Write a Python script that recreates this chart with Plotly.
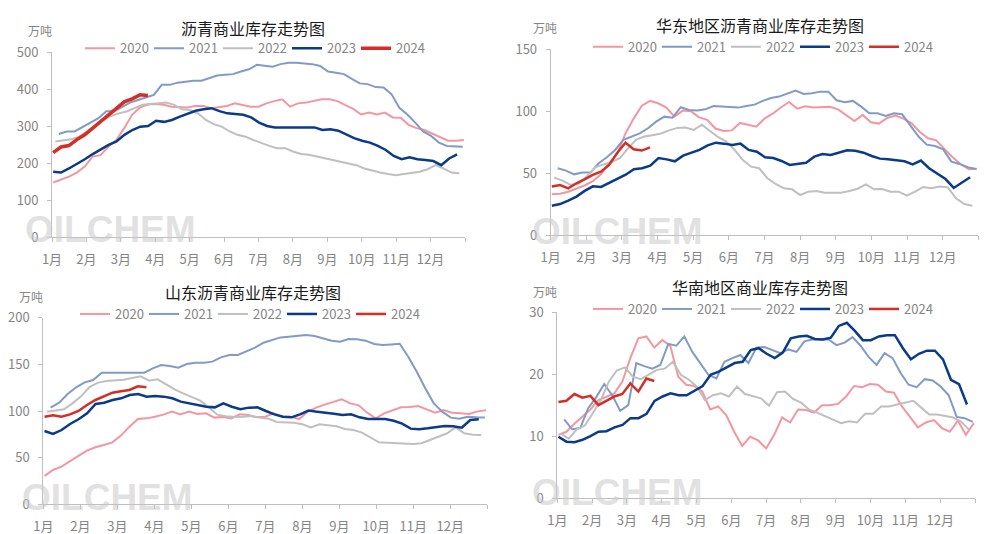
import datetime as dt
import plotly.graph_objects as go

# ---------------- data ----------------
YEARS = ["2020", "2021", "2022", "2023", "2024"]
FIRST_WEEK = ["2020-01-02", "2021-01-07", "2022-01-04", "2023-01-02", "2024-01-02"]
MONTH_LABELS = ["1月", "2月", "3月", "4月", "5月", "6月", "7月", "8月", "9月", "10月", "11月", "12月"]
TITLES = ["沥青商业库存走势图", "华东地区沥青商业库存走势图", "山东沥青商业库存走势图", "华南地区商业库存走势图"]
UNIT = "万吨"
WATERMARK = "OILCHEM"

# 沥青商业库存 (万吨)
TOTAL_2020 = [148, 155, 164, 175, 191, 218, 222, 245, 263, 295, 331, 351, 359, 360, 358, 353, 353, 351, 355, 355,
              349, 351, 355, 362, 358, 353, 353, 362, 368, 373, 353, 362, 364, 368, 373, 373, 368, 357, 347, 332,
              337, 332, 337, 324, 323, 304, 295, 290, 281, 270, 261, 261, 263]
TOTAL_2021 = [279, 286, 286, 299, 310, 322, 341, 341, 353, 364, 371, 378, 385, 412, 412, 418, 421, 423, 423, 430,
              437, 439, 441, 448, 454, 466, 464, 461, 468, 472, 472, 471, 468, 463, 448, 445, 441, 428, 416, 414,
              406, 405, 387, 350, 332, 310, 286, 274, 256, 247, 245, 245]
TOTAL_2022 = [259, 263, 265, 272, 286, 301, 317, 328, 335, 340, 349, 358, 360, 362, 364, 358, 346, 344, 335, 317,
              306, 299, 286, 277, 272, 263, 254, 247, 241, 241, 232, 225, 223, 218, 214, 209, 205, 200, 195, 186,
              180, 175, 171, 168, 171, 175, 177, 184, 195, 186, 175, 173]
TOTAL_2023 = [177, 175, 186, 198, 211, 225, 238, 250, 259, 277, 290, 299, 301, 315, 312, 317, 326, 333, 342, 346,
              349, 341, 335, 333, 331, 324, 310, 301, 297, 297, 297, 297, 299, 297, 290, 292, 288, 277, 268, 261,
              256, 247, 236, 220, 211, 216, 211, 209, 206, 195, 213, 224]
TOTAL_2024 = [229, 244, 248, 264, 277, 295, 313, 331, 351, 366, 374, 385, 383]

# 华东地区沥青商业库存 (万吨)
EAST_2020 = [32.9, 33.4, 35.0, 37.2, 40.0, 43.5, 49.0, 58.0, 65.5, 82.0, 94.0, 104.5, 108.3, 106.4, 103.0, 95.6,
             100.5, 100.0, 95.0, 93.0, 86.0, 84.0, 84.5, 90.5, 89.0, 87.5, 94.0, 98.0, 103.0, 107.5, 102.0, 104.0,
             103.0, 103.5, 103.5, 101.5, 97.0, 92.0, 97.0, 91.0, 90.0, 94.5, 96.5, 94.0, 90.2, 83.2, 78.1, 76.5,
             69.5, 62.8, 57.1, 53.1, 53.6]
EAST_2021 = [53.9, 52.0, 49.0, 50.4, 50.4, 57.9, 62.8, 68.7, 76.8, 79.5, 82.1, 86.2, 91.6, 95.6, 94.8, 103.2,
             101.0, 100.5, 101.5, 104.2, 103.7, 103.7, 102.9, 104.2, 105.3, 108.3, 110.7, 111.8, 114.5, 116.6,
             113.9, 114.5, 115.8, 115.8, 108.8, 107.2, 108.3, 103.7, 98.3, 98.3, 96.1, 98.3, 97.5, 88.9, 79.5,
             73.0, 71.9, 69.2, 59.3, 57.4, 54.7, 53.3]
EAST_2022 = [46.3, 43.9, 40.5, 41.5, 47.5, 54.6, 57.0, 59.0, 62.0, 70.0, 77.0, 79.5, 80.5, 82.0, 84.5, 86.5,
             86.8, 84.8, 89.0, 84.0, 79.0, 75.4, 68.7, 60.6, 55.2, 53.9, 45.8, 41.2, 37.7, 36.9, 32.3, 35.0,
             35.6, 34.2, 34.2, 34.2, 35.6, 37.4, 40.9, 36.9, 37.2, 35.0, 35.0, 31.8, 35.0, 38.8, 37.7, 39.1,
             38.5, 29.6, 25.0, 23.7]
EAST_2023 = [23.7, 25.0, 27.7, 31.0, 35.6, 39.3, 38.8, 42.0, 45.2, 48.7, 53.1, 53.9, 56.0, 62.2, 61.1, 59.5,
             64.1, 66.3, 68.7, 72.4, 74.6, 73.8, 72.7, 73.8, 68.7, 67.3, 62.8, 62.2, 59.8, 56.6, 57.4, 58.4,
             63.3, 65.4, 64.6, 66.8, 68.4, 68.1, 66.5, 63.8, 61.7, 61.1, 60.1, 59.5, 57.1, 60.1, 53.9, 49.6,
             45.2, 38.0, 42.3, 46.6]
EAST_2024 = [39.1, 40.4, 37.7, 41.8, 45.0, 48.5, 51.2, 56.6, 66.5, 74.6, 69.2, 68.2, 70.8]

# 山东沥青商业库存 (万吨)
SD_2020 = [30.4, 36.8, 40.4, 45.7, 51.8, 57.5, 61.1, 63.6, 66.4, 73.6, 83.2, 91.4, 92.1, 93.9, 96.1, 99.3,
           96.4, 99.3, 96.8, 97.5, 92.9, 93.6, 92.1, 96.4, 95.7, 93.2, 93.9, 97.5, 93.9, 93.9, 91.4, 99.3,
           103.6, 106.8, 109.6, 112.5, 108.2, 106.1, 98.2, 92.1, 97.5, 100.7, 103.9, 104.3, 105.4, 101.8,
           98.2, 101.1, 98.2, 97.5, 96.8, 99.6, 100.7]
SD_2021 = [103.6, 108.9, 118.2, 125.4, 130.7, 133.2, 141.1, 141.1, 141.1, 141.1, 141.1, 141.1, 145.7, 149.3,
           148.2, 146.4, 150.4, 151.8, 151.8, 152.9, 157.5, 160.0, 160.0, 164.3, 167.9, 173.2, 175.7, 178.9,
           179.6, 180.4, 181.4, 180.4, 177.5, 175.4, 174.3, 177.1, 176.8, 175.4, 171.8, 170.7, 171.4, 172.1,
           158.2, 142.1, 124.3, 108.2, 99.3, 92.9, 91.8, 93.9, 93.2, 92.9]
SD_2022 = [99.3, 100.4, 101.8, 108.2, 115.7, 125.7, 130.4, 132.1, 132.5, 133.6, 135.4, 137.1, 132.5, 133.9,
           128.6, 123.2, 118.9, 115.0, 111.1, 103.9, 96.1, 94.3, 93.6, 93.9, 94.6, 92.9, 91.8, 88.2, 87.5,
           87.5, 85.7, 82.5, 85.7, 85.0, 83.6, 80.7, 79.6, 76.8, 71.8, 66.4, 66.1, 65.4, 64.6, 64.6, 65.4,
           68.9, 72.1, 76.1, 82.5, 76.1, 74.6, 74.3]
SD_2023 = [78.6, 75.4, 79.6, 86.1, 91.1, 97.5, 107.5, 108.9, 111.8, 113.6, 117.1, 118.2, 115.4, 116.1, 115.4,
           113.6, 110.0, 108.2, 106.4, 104.6, 103.9, 108.2, 104.6, 101.8, 103.6, 103.9, 100.0, 96.4, 93.9,
           93.2, 96.4, 100.4, 99.3, 98.6, 97.1, 95.7, 96.4, 93.2, 91.4, 91.4, 91.4, 89.6, 86.4, 81.1, 80.4,
           81.4, 82.5, 83.9, 83.6, 82.1, 90.4, 91.1]
SD_2024 = [93.9, 95.4, 93.9, 96.4, 100.0, 106.4, 111.8, 116.1, 119.6, 121.1, 122.5, 126.5, 125.4]

# 华南地区商业库存 (万吨)
SOUTH_2020 = [10.2, 10.7, 12.0, 13.2, 14.3, 15.8, 16.4, 16.9, 18.8, 22.6, 25.8, 26.1, 24.3, 25.5, 24.6, 19.6,
              18.3, 18.1, 17.2, 14.3, 14.8, 13.4, 10.7, 8.4, 9.9, 9.3, 8.0, 10.2, 13.0, 12.2, 14.3, 14.2, 13.8,
              15.0, 15.0, 15.2, 16.4, 18.1, 17.9, 18.4, 18.3, 17.2, 17.0, 14.8, 13.1, 11.4, 12.2, 12.6, 11.3,
              10.7, 12.5, 10.2, 12.1]
SOUTH_2021 = [12.7, 11.1, 11.3, 14.5, 16.3, 18.4, 16.6, 14.1, 15.0, 21.8, 21.3, 20.9, 21.5, 24.9, 24.6, 26.1,
              23.6, 21.8, 19.9, 19.3, 22.0, 22.6, 23.1, 21.8, 24.3, 24.4, 23.9, 23.4, 24.0, 23.6, 25.3, 25.6,
              25.6, 25.6, 24.7, 25.1, 26.0, 24.6, 22.8, 21.5, 23.4, 22.6, 20.2, 18.3, 17.9, 19.2, 19.0, 18.0,
              16.6, 13.1, 12.9, 12.3]
SOUTH_2022 = [10.4, 9.6, 11.1, 11.7, 13.7, 15.8, 18.8, 20.6, 21.1, 19.6, 19.2, 19.9, 20.7, 20.9, 22.0, 19.9,
              19.1, 18.0, 15.8, 16.6, 16.9, 16.4, 18.0, 16.8, 16.5, 16.1, 14.9, 17.1, 17.2, 16.0, 15.4, 14.3,
              13.8, 13.2, 12.7, 12.1, 12.4, 12.2, 13.6, 13.6, 14.8, 14.8, 15.1, 15.4, 15.7, 14.6, 13.5, 13.5,
              13.2, 13.0, 12.3, 11.0]
SOUTH_2023 = [9.9, 9.1, 9.0, 9.4, 10.0, 10.7, 10.8, 11.4, 11.8, 12.9, 12.9, 13.6, 15.7, 16.4, 16.9, 16.6,
              16.6, 17.3, 18.1, 19.9, 20.4, 21.1, 21.8, 22.0, 23.9, 24.2, 23.3, 22.6, 23.5, 25.8, 26.1, 26.2,
              25.7, 25.6, 25.9, 27.8, 28.3, 27.0, 25.5, 25.5, 26.1, 26.3, 26.3, 24.2, 22.4, 23.3, 23.8, 23.8,
              22.4, 19.1, 18.4, 15.1]
SOUTH_2024 = [15.5, 15.7, 16.8, 16.2, 16.5, 15.0, 15.7, 16.4, 16.8, 18.5, 17.2, 19.3, 18.9]

PANELS = [
    {"title": TITLES[0], "series": [TOTAL_2020, TOTAL_2021, TOTAL_2022, TOTAL_2023, TOTAL_2024],
     "yrange": [0, 500], "dtick": 100},
    {"title": TITLES[1], "series": [EAST_2020, EAST_2021, EAST_2022, EAST_2023, EAST_2024],
     "yrange": [0, 150], "dtick": 50},
    {"title": TITLES[2], "series": [SD_2020, SD_2021, SD_2022, SD_2023, SD_2024],
     "yrange": [0, 200], "dtick": 50},
    {"title": TITLES[3], "series": [SOUTH_2020, SOUTH_2021, SOUTH_2022, SOUTH_2023, SOUTH_2024],
     "yrange": [0, 30], "dtick": 10},
]

# ---------------- style ----------------
W, H = 1006, 534
COLORS = ["#F4969F", "#819BC6", "#BFBFBF", "#0B3A8A", "#D42E27"]
WIDTHS = [2, 2, 2, 2.5, 2.5]
GREY = "#858585"
AXIS = "#BFBFBF"
FONT = "Microsoft YaHei, Noto Sans CJK SC, sans-serif"

# plot areas in pixels: left, right, top, bottom
BOXES = [(52, 465, 52.3, 237.3), (550.7, 978.3, 49.3, 235), (43.3, 487.3, 317.7, 504.3), (557.3, 975, 312.3, 498)]
TITLE_POS = [(253, 28), (760, 25), (253, 292), (760, 287)]
UNIT_POS = [(40, 30), (545, 27), (31, 296), (545, 291)]
LEGEND_POS = [(80, 48.3), (588, 46.7), (75, 314), (588, 309)]
MARK_POS = [(110, 229), (617, 232), (107, 498), (617, 492)]


def px(x):
    return x / W


def py(y):
    return 1 - y / H


def week_pos(first, n):
    d0 = dt.date.fromisoformat(first)
    jan1 = dt.date(d0.year, 1, 1)
    ylen = (dt.date(d0.year + 1, 1, 1) - jan1).days
    return [((d0 + dt.timedelta(days=7 * k)) - jan1).days / ylen * 12 for k in range(n)]


fig = go.Figure()
layout = dict(width=W, height=H, margin=dict(l=0, r=0, t=0, b=0, pad=0, autoexpand=False), autosize=False,
              paper_bgcolor="white", plot_bgcolor="white", font=dict(family=FONT, color=GREY, size=12),
              annotations=[], hovermode=False)

for i, panel in enumerate(PANELS):
    n = i + 1
    sx = "" if n == 1 else str(n)
    lg = "legend" if n == 1 else f"legend{n}"
    for j, (yr, vals) in enumerate(zip(YEARS, panel["series"])):
        width = 3.5 if (i == 0 and j == 4) else WIDTHS[j]
        fig.add_trace(go.Scatter(
            x=week_pos(FIRST_WEEK[j], len(vals)), y=vals, mode="lines", name=yr,
            line=dict(color=COLORS[j], width=width), xaxis=f"x{sx}", yaxis=f"y{sx}", legend=lg))
    l, r, t, b = BOXES[i]
    layout[f"xaxis{sx}"] = dict(domain=[px(l), px(r)], anchor=f"y{sx}", range=[0, 12], automargin=False,
                                tickvals=list(range(13)), ticktext=MONTH_LABELS + [""],
                                showline=True, linecolor=AXIS, linewidth=1, ticks="outside",
                                ticklen=4, tickcolor=AXIS, showgrid=False, zeroline=False,
                                tickfont=dict(size=13, color=GREY), ticklabelstandoff=6)
    layout[f"yaxis{sx}"] = dict(domain=[py(b), py(t)], anchor=f"x{sx}", range=panel["yrange"],
                                automargin=False, dtick=panel["dtick"], showline=True, linecolor=AXIS,
                                linewidth=1, ticks="outside", ticklen=4, tickcolor=AXIS, showgrid=False,
                                zeroline=False, tickfont=dict(size=13, color=GREY), ticklabelstandoff=6)
    lx, ly = LEGEND_POS[i]
    layout[lg] = dict(orientation="h", x=px(lx), y=py(ly), xanchor="left", yanchor="middle",
                      font=dict(size=13, color=GREY), bgcolor="rgba(0,0,0,0)",
                      entrywidth=24, entrywidthmode="pixels", tracegroupgap=0, itemclick=False)
    tx, ty = TITLE_POS[i]
    layout["annotations"].append(dict(text=panel["title"], x=px(tx), y=py(ty), xref="paper", yref="paper",
                                      showarrow=False, xanchor="center", yanchor="middle",
                                      font=dict(size=16, color="#1A1A1A", family=FONT)))
    ux, uy = UNIT_POS[i]
    layout["annotations"].append(dict(text=UNIT, x=px(ux), y=py(uy), xref="paper", yref="paper",
                                      showarrow=False, xanchor="center", yanchor="middle",
                                      font=dict(size=12, color=GREY, family=FONT)))
    mx, my = MARK_POS[i]
    layout["annotations"].append(dict(text=f"<b>{WATERMARK}</b>", x=px(mx), y=py(my), xref="paper",
                                      yref="paper", showarrow=False, xanchor="center", yanchor="middle",
                                      font=dict(size=37, color="rgba(200,200,200,0.55)",
                                                family="Liberation Sans, Arial, sans-serif")))

fig.update_layout(**layout)
fig.write_html("out.html", config={"displayModeBar": False},
               post_script="document.body.style.margin='0';")
